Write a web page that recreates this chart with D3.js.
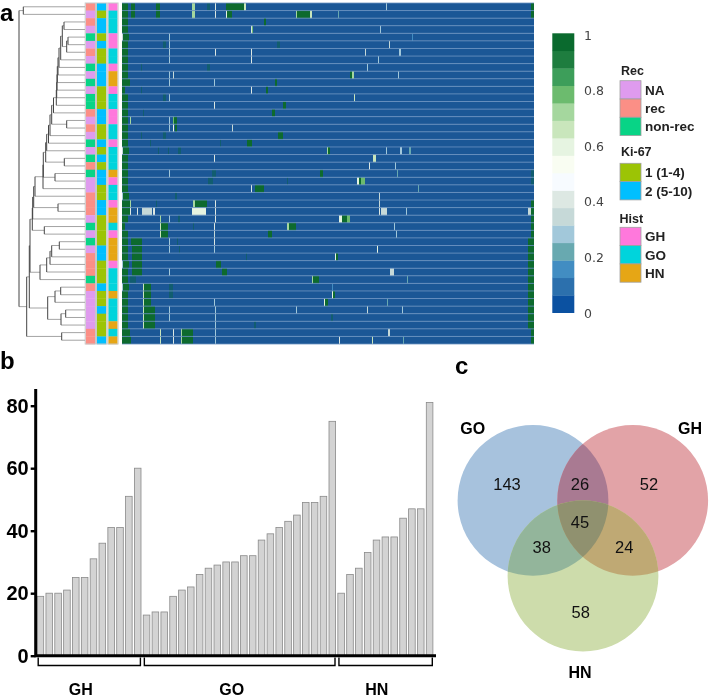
<!DOCTYPE html>
<html>
<head>
<meta charset="utf-8">
<script src="https://cdn.jsdelivr.net/npm/d3@7"></script>
<style>
  html, body { margin: 0; background: #fff; }
  svg { display: block; }
  text { font-family: "Liberation Sans", Arial, sans-serif; }
</style>
</head>
<body>
<svg id="chart" width="709" height="697"></svg>
<script>
// panel a: annotation tracks, one entry per heatmap row
const recTrack = ['rec','NA','rec','NA','non-rec','NA','rec','NA','non-rec','NA','non-rec','NA','non-rec','non-rec','rec',
  'NA','rec','NA','non-rec','NA','non-rec','rec','non-rec','NA','NA','rec','rec','rec','NA','non-rec',
  'NA','non-rec','NA','rec','rec','rec','non-rec','rec','NA','NA','NA','NA','NA','rec','rec'];
const kiTrack = ['2','1','2','2','1','2','1','1','2','2','2','1','1','1','2',
  '2','1','1','2','1','2','1','2','2','1','1','2','2','1','1',
  '1','1','2','2','1','1','1','2','1','1','2','1','1','1','2'];
const histTrack = ['GH','GO','GO','GO','GH','GH','GO','GO','GH','HN','HN','GH','GO','GO','GH',
  'GH','GO','GO','GH','GO','GO','GO','HN','GH','GO','GO','GH','HN','HN','GO',
  'GH','HN','HN','HN','GH','GO','GO','GO','HN','GO','GO','GO','HN','GO','HN'];

// non-zero heatmap cells per row: [first column, column count, value]
const rowHits = [
  [[0,6,.97],[9,4,.97],[34,4,.97],[70,3,.72],[93,1,.42],[104,18,.97],[122,2,.68],[264,1,.27],[409,3,.97]],
  [[0,6,.97],[9,4,.97],[34,4,.97],[70,3,.72],[93,1,.42],[104,1,.6],[105,5,.97],[174,1,.72],[175,13,.97],[188,2,.68],[216,1,.2],[409,3,.97]],
  [[0,6,.97],[142,2,.97]],
  [[0,6,.97],[129,1,.42],[130,1,.8],[258,1,.27]],
  [[0,1,.37],[1,6,.97],[47,1,.27],[290,1,.15]],
  [[0,6,.97],[47,1,.27],[267,1,.37]],
  [[0,6,.97],[47,1,.27],[93,1,.42],[129,1,.42],[243,1,.37],[277,2,.27]],
  [[0,6,.97],[47,1,.27],[129,1,.42],[256,1,.27]],
  [[0,6,.97],[245,1,.27]],
  [[0,6,.97],[47,1,.27],[51,1,.37],[228,2,.97],[230,2,.7],[276,1,.27]],
  [[0,8,.97],[47,1,.27],[92,1,.27],[153,2,.97]],
  [[0,3,.97],[129,1,.42],[144,2,.97]],
  [[0,6,.97],[47,1,.27],[232,1,.68]],
  [[0,6,.97],[92,1,.42],[161,3,.97]],
  [[0,6,.97],[150,3,.97]],
  [[0,6,.97],[8,1,.7],[47,1,.27],[51,1,.75],[52,3,.97]],
  [[0,6,.97],[47,1,.27],[51,1,.6],[53,2,.97],[110,1,.37]],
  [[0,6,.97],[156,5,.97]],
  [[0,6,.97],[125,5,.97]],
  [[0,1,.37],[1,6,.97],[205,1,.7],[206,2,.97],[264,1,.27],[278,2,.27],[287,2,.2]],
  [[0,6,.97],[92,1,.42],[251,3,.65]],
  [[0,6,.97],[247,1,.42],[273,1,.27]],
  [[0,6,.97],[47,1,.27],[198,3,.97],[275,1,.2]],
  [[0,6,.97],[235,2,.6],[237,2,.97],[239,4,.8]],
  [[0,6,.97],[129,1,.42],[133,9,.97],[296,1,.2]],
  [[0,1,.27],[1,6,.97],[257,1,.37]],
  [[0,8,.97],[8,1,.7],[71,2,.7],[73,12,.97],[93,1,.42],[257,1,.37],[409,3,.97]],
  [[0,8,.97],[8,1,.42],[15,1,.42],[20,10,.37],[31,2,.42],[70,14,.62],[93,1,.42],[257,1,.42],[259,6,.37],[284,1,.27],[406,3,.37],[409,3,.97]],
  [[0,6,.97],[38,1,.7],[47,1,.27],[93,1,.42],[217,3,.62],[220,5,.97],[225,3,.75],[409,3,.97]],
  [[0,3,.97],[38,1,.68],[39,7,.97],[92,1,.42],[165,2,.72],[167,7,.97],[272,1,.27],[409,3,.97]],
  [[0,6,.97],[38,1,.68],[39,7,.97],[92,1,.37],[146,4,.97],[274,1,.27],[409,3,.97]],
  [[0,6,.97],[9,11,.97],[47,1,.27],[92,1,.42],[406,6,.97]],
  [[0,6,.97],[10,10,.97],[47,1,.27],[92,1,.27],[255,1,.62],[406,6,.97]],
  [[0,6,.97],[10,10,.97],[213,1,.62],[214,2,.97],[406,6,.97]],
  [[0,1,.27],[1,6,.97],[10,10,.97],[94,5,.97],[406,6,.97]],
  [[0,6,.97],[10,10,.97],[47,1,.27],[100,5,.97],[268,4,.37],[406,6,.97]],
  [[0,6,.97],[190,1,.7],[191,6,.97],[285,1,.2],[406,6,.97]],
  [[0,1,.27],[1,6,.97],[21,1,.68],[22,7,.97],[210,1,.15],[406,6,.97]],
  [[0,6,.97],[21,1,.68],[22,7,.97],[210,1,.6],[211,2,.97],[406,6,.97]],
  [[0,6,.97],[21,1,.68],[22,7,.97],[92,1,.27],[202,1,.62],[203,3,.97],[265,1,.2],[406,6,.97]],
  [[0,6,.97],[21,1,.68],[22,11,.97],[47,1,.27],[93,1,.27],[174,1,.27],[245,1,.37],[280,1,.27],[406,6,.97]],
  [[0,6,.97],[21,1,.68],[22,11,.97],[47,1,.27],[93,1,.27],[406,6,.97]],
  [[0,6,.97],[21,1,.68],[22,11,.97],[93,1,.27],[406,6,.97]],
  [[0,8,.97],[38,1,.68],[51,1,.42],[59,1,.7],[60,11,.97],[93,1,.27],[266,2,.37],[409,3,.97]],
  [[0,9,.97],[38,1,.68],[51,1,.42],[59,1,.7],[60,11,.97],[93,1,.27],[217,1,.42],[250,1,.65],[281,1,.2],[409,3,.97]]
];
// blurred, low contrast green cells: [row, first column, column count]
const faintHits = [[0,85,3],[5,41,3],[5,155,3],[8,19,1],[8,85,3],[11,19,1],[12,41,3],[14,21,1],[17,19,1],[17,41,3],
  [18,28,1],[18,98,1],[19,36,1],[19,46,1],[19,56,3],[22,90,4],[23,86,5],[23,165,1],[25,53,2],[26,34,1],[28,56,2],
  [29,71,1],[31,55,1],[32,57,1],[33,124,1],[36,8,6],[37,47,4],[38,47,4],[41,209,2],[42,132,2],[22,409,3],[23,409,3]];

// dendrogram merges: [height, child, child], numbers are heatmap rows
const node456 = [18.3, [17, 4, 5], 6];
const upperRows = [[24.3, 7], [26, 8], [27, 9], [27.7, 10], [28, 11], [28.3, 12], [28.7, 13], [31.5, 14],
  [33.3, [18.3, 15, 16]], [35, 17], [36.5, 18], [38.3, 19], [39.3, [20.7, 20, 21]], [41.7, [30, 22, 23]],
  [42, 24], [50, 25], [51.3, [27, 26, 27]], [52.3, 28], [52.7, [40.7, 29, 30]]];
const upperTree = upperRows.reduce((acc, [h, next]) => [h, acc, next], [22.7, [21, 2, 3], node456]);
const midTree = [45, [38.3, [35, [33.3, [25.7, 31, 32], 33], 34], 35], 36];
const lowTree = [37.3, [30, [24.3, 37, 38], 39], [24, [19.3, 40, 41], 42]];
const dendroTree = [66, [61.7, 0, 1], [58.3, [55.7, [55, upperTree, midTree], lowTree], [23.3, 43, 44]]];

// colour bar
const binColors = ['#0b51a1','#2c70ad','#428dc2','#68a9b0','#a2c8da','#c6d9d8','#dde8e3','#f7fbff',
  '#f9fdf2','#e6f4e1','#c9e6bc','#a5d79e','#6cbb6e','#3d9e5a','#1e7d3f','#0a6a2e'];
const barTicks = [0, 0.2, 0.4, 0.6, 0.8, 1];

// legends
const recLegend = ['NA', 'rec', 'non-rec'];
const recColors = ['#df9bee', '#fb8f86', '#08d486'];
const kiLegend = ['1 (1-4)', '2 (5-10)'];
const kiKeys = ['1', '2'];
const kiColors = ['#9cc405', '#00bfff'];
const histLegend = ['GH', 'GO', 'HN'];
const histColors = ['#ff78dc', '#00d4dc', '#e6a615'];

// panel b
const ghCounts = [19, 20, 20, 21, 25, 25, 31, 36, 41, 41, 51, 60];
const goCounts = [13, 14, 14, 19, 21, 22, 26, 28, 29, 30, 30, 32, 32, 37, 39, 41, 43, 45, 49, 49, 51, 75];
const hnCounts = [20, 26, 28, 33, 37, 38, 38, 44, 47, 47, 81];
const countTicks = [0, 20, 40, 60, 80];

// panel c
const vennNames = ['GO', 'GH', 'HN'];
const vennColors = ['#a7c2dd', '#e2a3a7', '#cddcab'];
const vennPairColors = ['#a97a92', '#93b59b', '#bfa974'];
const vennCenterColor = '#90916f';
const vennNumbers = ['143', '26', '52', '45', '38', '24', '58'];

const svg = d3.select('#chart');
const font = '"Liberation Sans", Arial, sans-serif';
const defs = svg.append('defs');

// ---- panel a ----
const rowY = d3.scaleBand().domain(d3.range(rowHits.length)).range([3, 344]);
const colX = d3.scaleBand().domain(d3.range(412)).range([122, 534]);
const cellColors = ['#1b5796'].concat(binColors.slice(1));
const cellColor = d3.scaleQuantize().domain([0, 1]).range(cellColors);

// the source image is soft, thin columns never reach full contrast
defs.append('filter').attr('id', 'soft')
  .attr('filterUnits', 'userSpaceOnUse')
  .attr('x', 110).attr('y', 0).attr('width', 440).attr('height', 350)
  .append('feGaussianBlur').attr('stdDeviation', '0.55 0.15');

const heat = svg.append('g');
heat.selectAll('rect.row').data(d3.range(rowHits.length)).join('rect')
  .attr('class', 'row')
  .attr('x', 122).attr('y', d => rowY(d))
  .attr('width', 412).attr('height', rowY.bandwidth())
  .attr('fill', cellColor(0));

const hitLayer = heat.append('g').attr('filter', 'url(#soft)');
const hitCells = rowHits.flatMap((hits, r) => hits.map(([col, len, v]) => ({ r, col, len, v })));
hitLayer.selectAll('rect.faint').data(faintHits).join('rect')
  .attr('class', 'faint')
  .attr('x', d => colX(d[1])).attr('y', d => rowY(d[0]))
  .attr('width', d => d[2] * colX.step()).attr('height', rowY.bandwidth())
  .attr('fill', cellColor(0.97)).attr('opacity', 0.35);
hitLayer.selectAll('rect.hit').data(hitCells).join('rect')
  .attr('class', 'hit')
  .attr('x', d => colX(d.col)).attr('y', d => rowY(d.r))
  .attr('width', d => d.len * colX.step()).attr('height', rowY.bandwidth())
  .attr('fill', d => cellColor(d.v));
heat.selectAll('line').data(d3.range(rowHits.length + 1)).join('line')
  .attr('x1', 122).attr('x2', 534)
  .attr('y1', d => d === rowHits.length ? 344 : rowY(d))
  .attr('y2', d => d === rowHits.length ? 344 : rowY(d))
  .attr('stroke', '#6a92c0').attr('stroke-width', 0.8);

// annotation tracks
const recColor = d3.scaleOrdinal(recLegend, recColors);
const kiColor = d3.scaleOrdinal(kiKeys, kiColors);
const histColor = d3.scaleOrdinal(histLegend, histColors);
[[85.7, recTrack, recColor], [97, kiTrack, kiColor], [108.3, histTrack, histColor]].forEach(([x, track, color]) => {
  const g = svg.append('g');
  g.selectAll('rect').data(track).join('rect')
    .attr('x', x).attr('y', (d, i) => rowY(i))
    .attr('width', 9.3).attr('height', rowY.bandwidth() + 0.3)
    .attr('fill', d => color(d));
  g.append('rect').attr('x', x - 0.5).attr('y', 3).attr('width', 10.3).attr('height', 341)
    .attr('fill', 'none').attr('stroke', '#c8c8c8').attr('stroke-width', 1);
});

// dendrogram
const dendroX = d3.scaleLinear().domain([0, 66]).range([85, 19]);
const dendroRoot = d3.hierarchy(dendroTree, d => Array.isArray(d) ? d.slice(1) : null);
dendroRoot.eachAfter(n => {
  if (n.children) {
    n.py = d3.mean(n.children, c => c.py);
    n.px = dendroX(n.data[0]);
  } else {
    n.py = rowY(n.data) + rowY.bandwidth() / 2;
    n.px = dendroX(0);
  }
});
const dendro = svg.append('g').attr('fill', 'none');
dendro.selectAll('path.h').data(dendroRoot.links()).join('path')
  .attr('class', 'h')
  .attr('d', d => `M${d.source.px},${d.target.py}H${d.target.px}`)
  .attr('stroke', '#a4a4a4').attr('stroke-width', 1);
dendro.selectAll('path.v').data(dendroRoot.descendants().filter(n => n.children)).join('path')
  .attr('class', 'v')
  .attr('d', n => `M${n.px},${n.children[0].py}V${n.children[1].py}`)
  .attr('stroke', '#444').attr('stroke-width', 1);

// colour bar
const barBins = d3.scaleBand().domain(d3.range(binColors.length)).range([312.7, 33.3]);
svg.append('g').selectAll('rect').data(binColors).join('rect')
  .attr('x', 552.3).attr('width', 22)
  .attr('y', (d, i) => barBins(i)).attr('height', barBins.bandwidth() + 0.3)
  .attr('fill', d => d);
const barScale = d3.scaleLinear().domain([0, 1]).range([313.3, 35]);
svg.append('g').selectAll('text').data(barTicks).join('text')
  .attr('x', 584).attr('y', d => barScale(d)).attr('dy', '0.36em')
  .style('font-family', '"DejaVu Sans"').attr('font-size', 12.5).attr('fill', '#444')
  .text(d => d);

// legends
function drawLegend(title, titleX, titleY, labels, colors, top, step) {
  const g = svg.append('g');
  g.append('text').attr('x', titleX).attr('y', titleY)
    .attr('font-size', 12.5).attr('font-weight', 'bold').attr('fill', '#222').text(title);
  g.selectAll('rect').data(colors).join('rect')
    .attr('x', 620).attr('y', (d, i) => top + i * step)
    .attr('width', 21).attr('height', step)
    .attr('fill', d => d).attr('stroke', '#a0a0a0').attr('stroke-width', 0.8);
  g.selectAll('text.lab').data(labels).join('text')
    .attr('class', 'lab')
    .attr('x', 645).attr('y', (d, i) => top + i * step + step / 2).attr('dy', '0.36em')
    .attr('font-size', 13.5).attr('font-weight', 'bold').attr('fill', '#222').text(d => d);
}
drawLegend('Rec', 621, 75, recLegend, recColors, 80.7, 18.3);
drawLegend('Ki-67', 621, 156, kiLegend, kiColors, 163.3, 18.3);
drawLegend('Hist', 619.5, 222.7, histLegend, histColors, 227.3, 18.3);

// ---- panel b ----
const counts = ghCounts.concat(goCounts, hnCounts);
const barX = d3.scaleBand().domain(d3.range(counts.length)).range([36.7, 433.3]).paddingInner(0.163);
const barY = d3.scaleLinear().domain([0, 80]).range([655.7, 405.7]);

svg.append('g').selectAll('rect').data(counts).join('rect')
  .attr('x', (d, i) => barX(i) + 0.4).attr('y', d => barY(d))
  .attr('width', barX.bandwidth() - 0.8).attr('height', d => barY(0) - barY(d))
  .attr('fill', '#d3d3d3').attr('stroke', '#8a8a8a').attr('stroke-width', 0.8);

const axisY = svg.append('g').attr('transform', 'translate(35.7,0)')
  .call(d3.axisLeft(barY).tickValues(countTicks).tickSize(5).tickPadding(2));
axisY.select('.domain').remove();
axisY.selectAll('line').attr('stroke', '#000').attr('stroke-width', 2.4);
axisY.selectAll('text').style('font-family', font).attr('font-size', 20)
  .attr('font-weight', 'bold').attr('fill', '#000');
svg.append('path').attr('d', 'M35.7,389V655.7H436')
  .attr('fill', 'none').attr('stroke', '#000').attr('stroke-width', 3);

// group brackets under the bars
const groups = [
  { name: 'GH', first: 0, last: ghCounts.length - 1, labelX: 80.7 },
  { name: 'GO', first: ghCounts.length, last: ghCounts.length + goCounts.length - 1, labelX: 231.7 },
  { name: 'HN', first: ghCounts.length + goCounts.length, last: counts.length - 1, labelX: 376.7 }
];
groups.forEach(g => {
  const x0 = barX(g.first) + 1.5;
  const x1 = barX(g.last) + barX.bandwidth() - 1;
  svg.append('path').attr('d', `M${x0},657.5V665.5H${x1}V657.5`)
    .attr('fill', 'none').attr('stroke', '#000').attr('stroke-width', 1.4);
  svg.append('text').attr('x', g.labelX).attr('y', 695).attr('text-anchor', 'middle')
    .attr('font-size', 16).attr('font-weight', 'bold').attr('fill', '#000').text(g.name);
});

// ---- panel c ----
const vennCenters = [[533, 500.4], [632.7, 500.4], [583, 576]];
const vennR = 75.4;
const venn = svg.append('g');
vennCenters.forEach((c, i) => {
  defs.append('clipPath').attr('id', `venn-clip-${i}`)
    .append('circle').attr('cx', c[0]).attr('cy', c[1]).attr('r', vennR);
});
venn.selectAll('circle.base').data(vennColors).join('circle')
  .attr('class', 'base')
  .attr('cx', (d, i) => vennCenters[i][0]).attr('cy', (d, i) => vennCenters[i][1])
  .attr('r', vennR).attr('fill', d => d);
// overlaps: GO-GH, GO-HN, GH-HN, then the middle
[[0, 1], [0, 2], [1, 2]].forEach(([a, b], i) => {
  venn.append('circle')
    .attr('cx', vennCenters[b][0]).attr('cy', vennCenters[b][1]).attr('r', vennR)
    .attr('clip-path', `url(#venn-clip-${a})`).attr('fill', vennPairColors[i]);
});
venn.append('g').attr('clip-path', 'url(#venn-clip-0)')
  .append('circle')
  .attr('cx', vennCenters[1][0]).attr('cy', vennCenters[1][1]).attr('r', vennR)
  .attr('clip-path', 'url(#venn-clip-2)').attr('fill', vennCenterColor);

const numberPos = [[507, 490], [580, 490], [649, 490], [580, 527.7], [541.7, 553.3], [624.3, 553.3], [580.7, 618.3]];
svg.append('g').selectAll('text').data(vennNumbers).join('text')
  .attr('x', (d, i) => numberPos[i][0]).attr('y', (d, i) => numberPos[i][1])
  .attr('text-anchor', 'middle').attr('font-size', 16.5).attr('fill', '#111')
  .text(d => d);
const namePos = [[472.7, 434], [690, 434], [580, 678.3]];
svg.append('g').selectAll('text').data(vennNames).join('text')
  .attr('x', (d, i) => namePos[i][0]).attr('y', (d, i) => namePos[i][1])
  .attr('text-anchor', 'middle').attr('font-size', 16).attr('font-weight', 'bold').attr('fill', '#000')
  .text(d => d);

// panel letters
[['a', 0, 21], ['b', 0, 369], ['c', 455, 374]].forEach(([t, x, y]) => {
  svg.append('text').attr('x', x).attr('y', y)
    .attr('font-size', 24).attr('font-weight', 'bold').attr('fill', '#000').text(t);
});
</script>
</body>
</html>
